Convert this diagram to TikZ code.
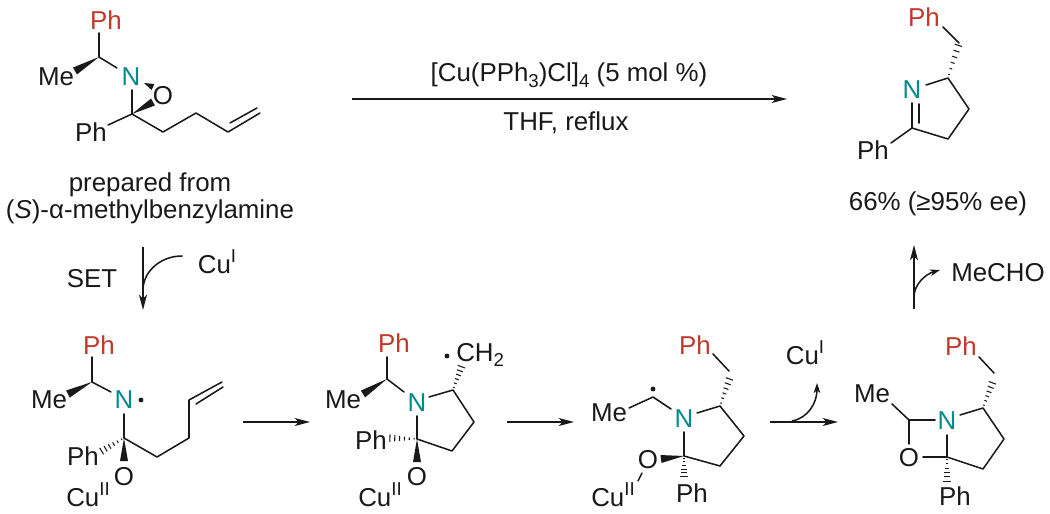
\documentclass[tikz,border=0pt]{standalone}
\usepackage{fontspec}
\setmainfont{Liberation Sans}
\usetikzlibrary{arrows.meta,calc}
\definecolor{chemred}{RGB}{192,57,43}
\definecolor{chemteal}{RGB}{0,140,140}
\definecolor{ink}{RGB}{25,25,25}
\newcommand{\sups}[1]{\raisebox{0.42em}{\fontsize{14}{14}\selectfont #1}}
\newcommand{\subs}[1]{\raisebox{-0.22em}{\fontsize{14}{14}\selectfont #1}}
\newcommand{\wdg}[2]{\fill[ink] (#1) -- ($(#2)!3pt!90:(#1)$) -- ($(#2)!3pt!-90:(#1)$) -- cycle;}
\newcommand{\hsh}[2]{\foreach \hk in {0,...,5}{%
  \pgfmathsetmacro\hpos{(\hk+0.6)/6}%
  \pgfmathsetmacro\hwid{0.3+\hpos*2.7}%
  \draw[hashline] ($(#1)!\hpos!(#2)!\hwid pt!90:(#2)$) -- ($(#1)!\hpos!(#2)!\hwid pt!-90:(#2)$);}}
\tikzset{
  bond/.style={draw=ink,line width=1.15pt,line cap=round,line join=round},
  hashline/.style={draw=ink,line width=0.8pt},
  lab/.style={inner sep=0pt,text=ink,font=\fontsize{19.4}{22}\selectfont},
  redlab/.style={lab,text=chemred},
  teallab/.style={lab,text=chemteal},
  rad/.style={circle,fill=ink,inner sep=0pt,minimum size=3.6pt},
  rxn/.style={draw=ink,line width=1.15pt,-{Stealth[length=11.5pt,width=6pt,inset=3pt]}},
  curved/.style={draw=ink,line width=1.15pt,-{Stealth[length=7.5pt,width=5pt,inset=2pt]}}
}
\begin{document}
\begin{tikzpicture}[x=0.75pt,y=-0.75pt]
\useasboundingbox (0,0) rectangle (1050,514);
% ---- structure 1
\node[redlab] (aPh) at (106,20) {Ph};
\node[lab] (aMe) at (56,77) {Me};
\node[teallab] (aN) at (131,77) {N};
\node[lab] (aO) at (163,96) {O};
\node[lab] (aPh2) at (91,132) {Ph};
\coordinate (a1) at (99,57); \coordinate (a1p) at (99,33); \coordinate (a1m) at (75,71);
\coordinate (a1n) at (117,68); \coordinate (anb) at (132,90); \coordinate (a2) at (132,114);
\coordinate (a2o) at (153,102); \coordinate (ano) at (144,83); \coordinate (aon) at (153,87);
\coordinate (a2p) at (108,125); \coordinate (a3) at (163,132); \coordinate (a4) at (196,113);
\coordinate (a5) at (228,132); \coordinate (a6) at (260,113); \coordinate (a5d) at (230,123); \coordinate (a6d) at (257,108);
\draw[bond] (a1p) -- (a1) -- (a1n);
\wdg{a1}{a1m}
\draw[bond] (anb) -- (a2);
\wdg{a2}{a2o}
\fill[ink] (ano) -- ($(aon)!2.5pt!90:(ano)$) -- ($(aon)!2.5pt!-90:(ano)$) -- cycle;
\draw[bond] (a2p) -- (a2) -- (a3) -- (a4) -- (a5) -- (a6);
\draw[bond] (a5d) -- (a6d);
\node[lab] (prep1) at (150,185) {prepared from};
\node[lab] (prep2) at (150,212) {(\textit{S})-α-methylbenzylamine};
% ---- top arrow
\coordinate (ta) at (352,99); \coordinate (tb) at (787,99);
\draw[rxn] (ta) -- (tb);
\node[lab] (cond1) at (569,75) {[Cu(PPh\subs{3})Cl]\subs{4} (5 mol \%)};
\node[lab] (cond2) at (566,123) {THF, reflux};
% ---- product
\node[redlab] (pPh) at (924,17) {Ph};
\node[teallab] (pN) at (912,90) {N};
\node[lab] (pPh2) at (873,150) {Ph};
\coordinate (p0) at (943,27); \coordinate (p1) at (959,43); \coordinate (p5) at (948,78);
\coordinate (pn5) at (926,85); \coordinate (p4) at (969,109); \coordinate (p3) at (948,139);
\coordinate (p2) at (912,128); \coordinate (pn2) at (912,103); \coordinate (pd1) at (919,104); \coordinate (pd2) at (919,123);
\coordinate (p2p) at (891,143);
\draw[bond] (p0) -- (p1);
\hsh{p5}{p1}
\draw[bond] (pn5) -- (p5) -- (p4) -- (p3) -- (p2) -- (pn2);
\draw[bond] (pd1) -- (pd2);
\draw[bond] (p2) -- (p2p);
\node[lab] (yield) at (938,204) {66\% (≥95\% ee)};
% ---- SET arrow
\coordinate (sa) at (143,247); \coordinate (sb) at (143,310);
\coordinate (sc) at (182,256); \coordinate (sd) at (143,290);
\draw[rxn] (sa) -- (sb);
\draw[bond] (sc) .. controls (160,256) and (143,272) .. (sd);
\node[lab] (set) at (92,279) {SET};
\node[lab] (cu1) at (217,262) {Cu\sups{I}};
% ---- structure 2
\node[redlab] (bPh) at (99,345) {Ph};
\node[lab] (bMe) at (49,400) {Me};
\node[teallab] (bN) at (124,400) {N};
\node[rad] (bdot) at (141,400) {};
\node[lab] (bPh2) at (83,456) {Ph};
\node[lab] (bO) at (124,477) {O};
\node[lab] (bCu) at (88,495) {Cu\sups{II}};
\coordinate (b1p) at (92,357); \coordinate (b1) at (92,382); \coordinate (b1m) at (68,394); \coordinate (b1n) at (111,392);
\coordinate (bnb) at (124,414); \coordinate (b2) at (124,438); \coordinate (b2p) at (100,452); \coordinate (b2o) at (124,461);
\coordinate (b3) at (157,457); \coordinate (b4) at (189,438); \coordinate (b5) at (189,400); \coordinate (b6) at (222,382);
\coordinate (b5d) at (196,404); \coordinate (b6d) at (223,387);
\draw[bond] (b1p) -- (b1) -- (b1n);
\wdg{b1}{b1m}
\draw[bond] (bnb) -- (b2) -- (b3) -- (b4) -- (b5) -- (b6);
\draw[bond] (b5d) -- (b6d);
\hsh{b2}{b2p}
\wdg{b2}{b2o}
% arrow
\coordinate (ar1a) at (243,422); \coordinate (ar1b) at (310,422);
\draw[rxn] (ar1a) -- (ar1b);
% ---- structure 3
\node[redlab] (cPh) at (394,343) {Ph};
\node[lab] (cMe) at (343,400) {Me};
\node[teallab] (cN) at (417,403) {N};
\node[lab] (cPh2) at (371,440) {Ph};
\node[lab] (cO) at (417,477) {O};
\node[lab] (cCu) at (380,495) {Cu\sups{II}};
\node[rad] (cdot) at (447,356) {};
\node[lab,anchor=west] (cCH) at (456,355) {CH\subs{2}};
\coordinate (c1p) at (387,357); \coordinate (c1) at (387,379); \coordinate (c1m) at (363,394); \coordinate (c1n) at (404,392);
\coordinate (cn5) at (429,397); \coordinate (c5) at (453,390); \coordinate (c5h) at (462,365);
\coordinate (c4) at (474,422); \coordinate (c3) at (452,451); \coordinate (c2) at (417,439); \coordinate (cn2) at (417,416);
\coordinate (c2p) at (388,438); \coordinate (c2o) at (417,462);
\draw[bond] (c1p) -- (c1) -- (c1n);
\wdg{c1}{c1m}
\draw[bond] (cn5) -- (c5) -- (c4) -- (c3) -- (c2) -- (cn2);
\hsh{c5}{c5h}
\hsh{c2}{c2p}
\wdg{c2}{c2o}
% arrow
\coordinate (ar2a) at (507,422); \coordinate (ar2b) at (574,422);
\draw[rxn] (ar2a) -- (ar2b);
% ---- structure 4
\node[redlab] (dPh) at (695,345) {Ph};
\node[lab] (dMe) at (609,413) {Me};
\node[teallab] (dN) at (684,419) {N};
\node[lab] (dO) at (648,460) {O};
\node[lab] (dCu) at (613,495) {Cu\sups{II}};
\node[lab] (dPh2) at (692,493) {Ph};
\node[rad] (ddot) at (653,389) {};
\coordinate (d0) at (713,354); \coordinate (d1) at (729,371); \coordinate (d1h) at (730,377); \coordinate (d5) at (720,406);
\coordinate (dn5) at (697,413); \coordinate (d4) at (744,436); \coordinate (d3) at (720,466); \coordinate (d2) at (684,456);
\coordinate (dn2) at (684,432); \coordinate (d2o) at (661,459); \coordinate (d2p) at (684,478);
\coordinate (do1) at (642,473); \coordinate (do2) at (638,481);
\coordinate (dm1) at (629,408); \coordinate (dm2) at (653,397); \coordinate (dm3) at (671,409);
\draw[bond] (d0) -- (d1);
\hsh{d5}{d1h}
\draw[bond] (dn5) -- (d5) -- (d4) -- (d3) -- (d2) -- (dn2);
\wdg{d2}{d2o}
\hsh{d2}{d2p}
\draw[bond] (do1) -- (do2);
\draw[bond] (dm1) -- (dm2) -- (dm3);
% arrow 3
\coordinate (ar3a) at (770,422); \coordinate (ar3b) at (838,422);
\coordinate (ar3c) at (792,421); \coordinate (ar3d) at (817,383);
\draw[rxn] (ar3a) -- (ar3b);
\draw[curved] (ar3c) .. controls (808,418) and (817,403) .. (ar3d);
\node[lab] (cu2) at (805,353) {Cu\sups{I}};
% ---- structure 5
\node[redlab] (ePh) at (961,346) {Ph};
\node[lab] (eMe) at (872,394) {Me};
\node[teallab] (eN) at (947,421) {N};
\node[lab] (eO) at (909,458) {O};
\node[lab] (ePh2) at (955,496) {Ph};
\coordinate (e0) at (979,357); \coordinate (e1) at (994,373); \coordinate (e1h) at (993,381); \coordinate (e5) at (983,408);
\coordinate (en5) at (960,415); \coordinate (e4) at (1004,439); \coordinate (e3) at (983,469); \coordinate (e2) at (947,457);
\coordinate (en2) at (947,435); \coordinate (e2o) at (923,457); \coordinate (eo) at (909,444); \coordinate (ec) at (909,420);
\coordinate (ecn) at (935,420); \coordinate (ecm) at (892,404); \coordinate (e2p) at (947,483);
\draw[bond] (e0) -- (e1);
\hsh{e5}{e1h}
\draw[bond] (en5) -- (e5) -- (e4) -- (e3) -- (e2) -- (en2);
\draw[bond] (e2) -- (e2o);
\draw[bond] (eo) -- (ec) -- (ecn);
\draw[bond] (ec) -- (ecm);
\hsh{e2}{e2p}
% up arrow
\coordinate (ua) at (914,309); \coordinate (ub) at (914,245);
\coordinate (uc) at (914,297); \coordinate (ud) at (940,270);
\draw[rxn] (ua) -- (ub);
\draw[curved] (uc) .. controls (914,284) and (926,274) .. (ud);
\node[lab] (mecho) at (998,273) {MeCHO};
\end{tikzpicture}
\end{document}
